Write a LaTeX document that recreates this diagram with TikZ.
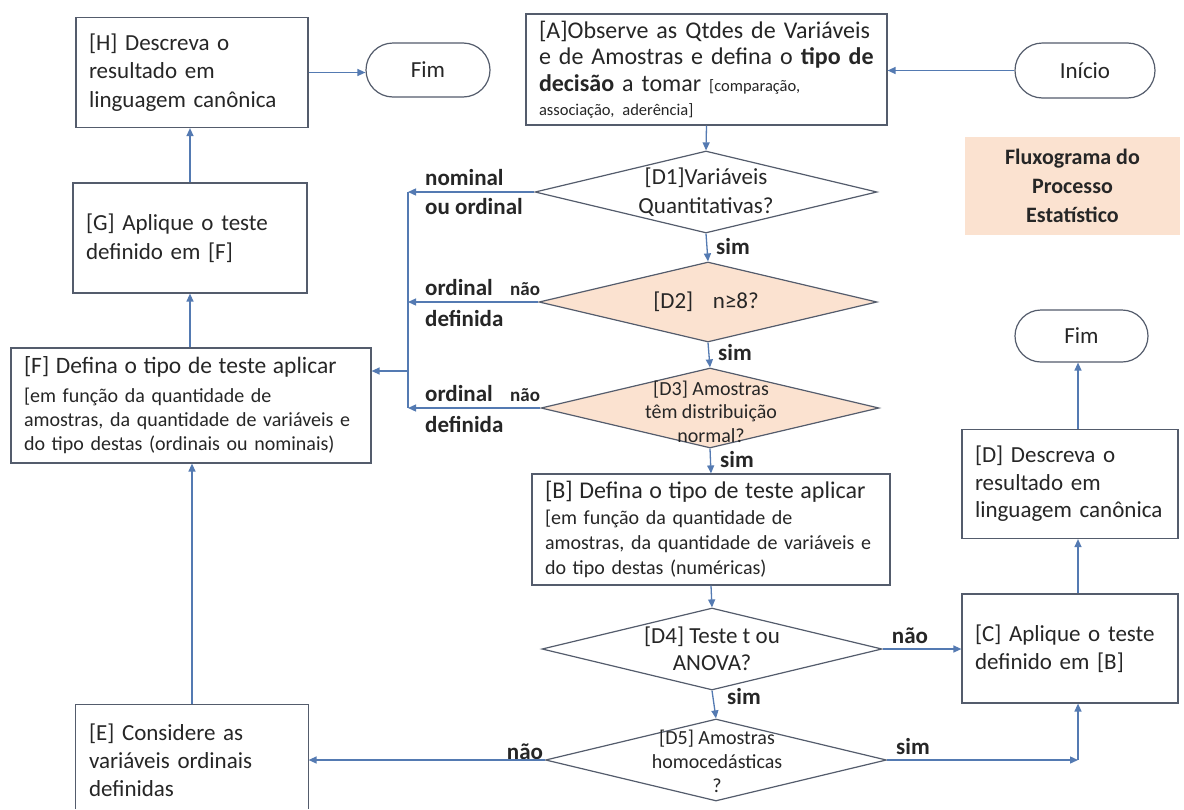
\documentclass[tikz,border=0pt]{standalone}
\usepackage{fontspec}
\setmainfont{Carlito}
\usetikzlibrary{shapes.geometric,shapes.misc,arrows.meta}
\definecolor{peach}{RGB}{251,226,208}
\definecolor{conn}{RGB}{84,122,178}
\definecolor{bord}{RGB}{84,92,108}
\definecolor{txt}{RGB}{38,38,38}
\newcommand\myfs[2]{\fontsize{#1}{#2}\selectfont}
\newcommand\ml[1]{\mbox{#1}}
\begin{document}
\begin{tikzpicture}[x=1pt,y=-1pt,
  box/.style={draw=bord, line width=1.2pt, fill=white, rectangle, align=left,
    inner xsep=13pt, inner ysep=0pt, text=txt},
  term/.style={draw=bord, line width=1.2pt, fill=white, rounded rectangle,
    inner sep=0pt, text=txt, font=\myfs{23}{28}},
  dia/.style={draw=bord, line width=1.2pt, diamond, inner sep=0pt},
  dtext/.style={align=center, inner sep=0pt, text=txt},
  lab/.style={font=\bfseries\myfs{23}{27}, text=txt, inner sep=0pt},
  smlab/.style={font=\bfseries\myfs{19}{22}, text=txt, inner sep=0pt},
  arr/.style={draw=conn, line width=1.3pt, -{Triangle[length=8pt,width=7pt]}},
  conline/.style={draw=conn, line width=1.3pt},
  bline/.style={draw=bord, line width=1.2pt}]
\useasboundingbox (0,0) rectangle (1184,809);
\fill[white] (0,0) rectangle (1184,809);

% boxes
\node[box, text width=206pt, minimum height=110pt, font=\myfs{23}{28.5}] (H) at (192,72.5)
  {\ml{[H] Descreva o}\\\ml{resultado em}\\\ml{linguagem canônica}};
\node[box, text width=335pt, minimum height=111pt, font=\myfs{24}{26.5}] (A) at (706.5,69.5)
  {\ml{[A]Observe as Qtdes de Variáveis}\\\ml{e de Amostras e defina o \textbf{tipo de}}\\\ml{\textbf{decisão} a tomar {\myfs{16.5}{20}[comparação,}}\\[-2.5pt]\ml{\myfs{16.5}{20}associação, aderência]}};
\node[box, text width=208pt, minimum height=110pt, font=\myfs{23}{29}] (G) at (190,238)
  {\ml{[G] Aplique o teste}\\\ml{definido em [F]}};
\node[box, text width=334pt, minimum height=115pt, font=\myfs{20}{24}] (F) at (191,405.5)
  {\ml{\myfs{23.5}{28}[F] Defina o tipo de teste aplicar}\\[5pt]\ml{[em função da quantidade de}\\\ml{amostras, da quantidade de variáveis e}\\\ml{do tipo destas (ordinais ou nominais)}};
\node[box, text width=332pt, minimum height=111pt, font=\myfs{20}{25}] (B) at (711,529.5)
  {\ml{\myfs{24}{28}[B] Defina o tipo de teste aplicar}\\[1pt]\ml{[em função da quantidade de}\\\ml{amostras, da quantidade de variáveis e}\\\ml{do tipo destas (numéricas)}};
\node[box, draw=none, text width=206pt, minimum height=110pt, font=\myfs{23}{28}] (E) at (192,760)
  {\ml{[E] Considere as}\\\ml{variáveis ordinais}\\\ml{definidas}};
\node[box, text width=190pt, minimum height=109pt, font=\myfs{23}{28}] (C) at (1070,648.5)
  {\ml{[C] Aplique o teste}\\\ml{definido em [B]}};
\node[box, text width=190pt, minimum height=109pt, font=\myfs{23}{27.5}] (D) at (1070,484)
  {\ml{[D] Descreva o}\\\ml{resultado em}\\\ml{linguagem canônica}};

% terminals
\node[term, minimum width=124pt, minimum height=54pt] (Fim1) at (428,70) {Fim};
\node[term, minimum width=140pt, minimum height=55pt] (Ini) at (1085,70.5) {Início};
\node[term, minimum width=133pt, minimum height=52pt] (Fim2) at (1081.5,336) {Fim};

% title
\node[fill=peach, minimum width=215pt, minimum height=98pt, align=center, inner sep=0pt,
  text=txt, font=\bfseries\myfs{22}{29}] (T) at (1072.5,186)
  {Fluxograma do\\Processo\\Estatístico};

% diamonds
\node[dia, fill=white, minimum width=342pt, minimum height=82pt] (D1) at (706,192) {};
\node[dia, fill=peach, minimum width=338pt, minimum height=80pt] (D2) at (708,302) {};
\node[dia, fill=peach, minimum width=338pt, minimum height=80pt] (D3) at (710,408) {};
\node[dia, fill=white, minimum width=340pt, minimum height=82pt] (D4) at (712,649) {};
\node[dia, fill=white, minimum width=341pt, minimum height=82pt] (D5) at (716,760) {};
\node[dtext, font=\myfs{23}{29}] (D1t) at (706,192.5) {[D1]Variáveis\\Quantitativas?};
\node[dtext, font=\myfs{23}{29}] (D2t) at (706,302) {[D2]\hspace{0.85em}n≥8?};
\node[dtext, font=\myfs{20}{23.5}] (D3t) at (711,411.5) {[D3] Amostras\\têm distribuição\\normal?};
\node[dtext, font=\myfs{23}{27}] (D4t) at (712,648.5) {[D4] Teste t ou\\ANOVA?};
\node[dtext, font=\myfs{20}{24}] (D5t) at (717,761) {[D5] Amostras\\homocedásticas\\?};

% E box sides (bottom cut by the page edge)
\coordinate (bot) at (0,809);
\draw[bline] (E.north west |- bot) -- (E.north west) -- (E.north east) -- (E.north east |- bot);

% labels
\node[lab, anchor=west] (l1a) at (425,178) {nominal};
\node[lab, anchor=west] (l1b) at (425,207) {ou ordinal};
\node[lab, anchor=west] (l2a) at (425,288) {ordinal};
\node[smlab, anchor=west] (l2n) at (510,289) {não};
\node[lab, anchor=west] (l2b) at (425,318) {definida};
\node[lab, anchor=west] (l3a) at (425,394) {ordinal};
\node[smlab, anchor=west] (l3n) at (510,395) {não};
\node[lab, anchor=west] (l3b) at (425,424) {definida};
\node[lab, anchor=west] (s1) at (716,247) {sim};
\node[lab, anchor=west] (s2) at (718,353) {sim};
\node[lab, anchor=west] (s3) at (720,460) {sim};
\node[lab, anchor=west] (s4) at (727,697) {sim};
\node[lab] (n4) at (910,636) {não};
\node[lab] (s5) at (913,747) {sim};
\node[lab] (n5) at (525,752) {não};

% connectors
\draw[arr] (Ini.west) -- (Ini.west -| A.east);
\draw[arr] (A.south) -- (D1.north);
\draw[arr] (D1.south) -- (D2.north);
\draw[arr] (D2.south) -- (D3.north);
\draw[arr] (D3.south) -- (B.north);
\draw[arr] (B.south) -- (D4.north);
\draw[arr] (D4.south) -- (D5.north);
\draw[arr] (D4.east) -- (D4.east -| C.west);
\coordinate (c5) at (1078,760);
\coordinate (cx) at (1078,0);
\draw[arr] (D5.east) -- (c5);
\draw[arr] (c5) -- (c5 |- C.south);
\draw[arr] (cx |- C.north) -- (cx |- D.south);
\draw[arr] (cx |- D.north) -- (cx |- Fim2.south);
\draw[arr] (D5.west) -- (D5.west -| E.east);
\draw[arr] (E.north) -- (E.north |- F.south);
\draw[arr] (G.south |- F.north) -- (G.south);
\draw[arr] (G.north) -- (G.north |- H.south);
\draw[arr] (H.east) -- (H.east -| Fim1.west);
\coordinate (b1) at (408,192);
\coordinate (b2) at (408,302);
\coordinate (b3) at (408,408);
\coordinate (bF) at (408,371);
\draw[arr] (D1.west) -- (b1);
\draw[arr] (D2.west) -- (b2);
\draw[arr] (D3.west) -- (b3);
\draw[conline] (b1) -- (b3);
\draw[arr] (bF) -- (bF -| F.east);
\end{tikzpicture}
\end{document}
